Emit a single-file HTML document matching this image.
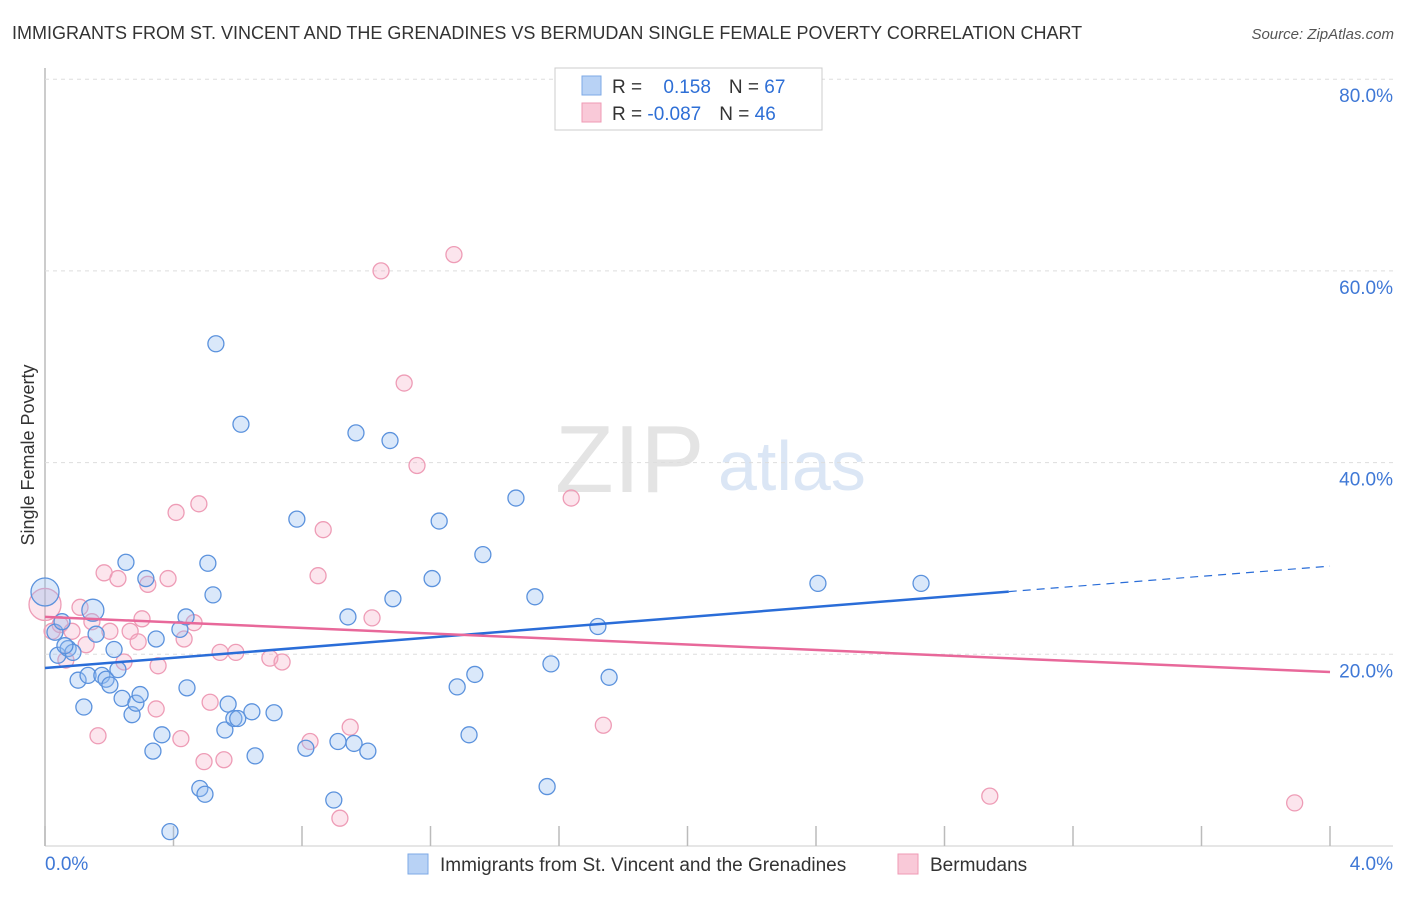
<!DOCTYPE html>
<html><head><meta charset="utf-8"><style>
body{margin:0;background:#fff;font-family:"Liberation Sans",sans-serif}
svg text{font-family:"Liberation Sans",sans-serif}
</style></head><body>
<svg id="c" width="1406" height="892">
<text x="12" y="39" font-size="18" fill="#333">IMMIGRANTS FROM ST. VINCENT AND THE GRENADINES VS BERMUDAN SINGLE FEMALE POVERTY CORRELATION CHART</text>
<text x="1394" y="39" font-size="15" fill="#555" font-style="italic" text-anchor="end">Source: ZipAtlas.com</text>
<text x="34" y="455" font-size="18" fill="#333" transform="rotate(-90 34 455)" text-anchor="middle">Single Female Poverty</text>
<text x="555" y="492" font-size="96" fill="#e4e4e4" font-family="Liberation Serif">ZIP</text>
<text x="718" y="490" font-size="70" fill="#dbe6f5">atlas</text>
<g id="grid"></g><g id="pts"></g><g id="lines"></g>
<g>
<rect x="555" y="68" width="267" height="62" fill="#fff" stroke="#ccc"/>
<rect x="582" y="76" width="19" height="19" fill="#b8d2f5" stroke="#7ea9e6"/>
<rect x="582" y="103" width="19" height="19" fill="#f9c9d8" stroke="#ef9ab4"/>
<text x="612" y="93" font-size="19" fill="#333">R = <tspan fill="#2e6fd6" dx="16">0.158</tspan><tspan dx="18" fill="#333">N = </tspan><tspan fill="#2e6fd6">67</tspan></text>
<text x="612" y="120" font-size="19" fill="#333">R = <tspan fill="#2e6fd6">-0.087</tspan><tspan dx="18" fill="#333">N = </tspan><tspan fill="#2e6fd6">46</tspan></text>
</g>
<g>
<rect x="408" y="854" width="20" height="20" fill="#b8d2f5" stroke="#7ea9e6"/>
<text x="440" y="871" font-size="19" fill="#333">Immigrants from St. Vincent and the Grenadines</text>
<rect x="898" y="854" width="20" height="20" fill="#f9c9d8" stroke="#ef9ab4"/>
<text x="930" y="871" font-size="19" fill="#333">Bermudans</text>
</g>
</svg>
<script>
const xTicks=[0,0.4,0.8,1.2,1.6,2.0,2.4,2.8,3.2,3.6,4.0];
const yTicks=[20,40,60,80];
const xLabels=["0.0%","4.0%"];
const blueX=[0.0,0.031,0.04,0.053,0.072,0.087,0.103,0.121,0.134,0.149,0.159,0.177,0.19,0.202,0.215,0.227,0.24,0.252,0.271,0.283,0.296,0.314,0.336,0.346,0.364,0.389,0.42,0.439,0.442,0.482,0.498,0.507,0.523,0.532,0.56,0.57,0.588,0.6,0.61,0.644,0.654,0.713,0.784,0.812,0.899,0.912,0.943,0.962,0.968,1.005,1.074,1.083,1.205,1.227,1.283,1.32,1.338,1.363,1.466,1.525,1.563,1.575,1.721,1.756,2.406,2.727,0.062];
const blueY=[26.5,22.3,19.9,23.4,20.6,20.2,17.3,14.5,17.8,24.6,22.1,17.8,17.4,16.8,20.5,18.4,15.4,29.6,13.7,14.9,15.8,27.9,9.9,21.6,11.6,1.5,22.6,23.9,16.5,6.0,5.4,29.5,26.2,52.4,12.1,14.8,13.3,13.3,44.0,14.0,9.4,13.9,34.1,10.2,4.8,10.9,23.9,10.7,43.1,9.9,42.3,25.8,27.9,33.9,16.6,11.6,17.9,30.4,36.3,26.0,6.2,19.0,22.9,17.6,27.4,27.4,20.9];
const pinkX=[0.0,0.022,0.047,0.065,0.084,0.109,0.128,0.146,0.165,0.184,0.202,0.227,0.246,0.265,0.29,0.302,0.32,0.346,0.352,0.383,0.408,0.423,0.433,0.464,0.479,0.495,0.514,0.545,0.557,0.594,0.7,0.738,0.825,0.85,0.866,0.918,0.95,1.018,1.046,1.118,1.158,1.273,1.638,1.738,2.941,3.89];
const pinkY=[25.2,22.4,23.1,19.4,22.4,24.9,21.0,23.4,11.5,28.5,22.4,27.9,19.2,22.4,21.3,23.7,27.3,14.3,18.8,27.9,34.8,11.2,21.6,23.3,35.7,8.8,15.0,20.2,9.0,20.2,19.6,19.2,10.9,28.2,33.0,2.9,12.4,23.8,60.0,48.3,39.7,61.7,36.3,12.6,5.2,4.5];
const blueBig=[14,0,0,0,0,0,0,0,0,11];const pinkBig=[16];
const trendBlue=[18.57,29.2],trendPink=[23.9,18.15];
const X=v=>45+v/4*1285, Y=v=>846-v/20*191.7;
const ns="http://www.w3.org/2000/svg";
function mk(t,a,p){const e=document.createElementNS(ns,t);for(const k in a)e.setAttribute(k,a[k]);p.appendChild(e);return e;}
const g=document.getElementById('grid');
const ax=mk('line',{x1:45,y1:68,x2:45,y2:846,stroke:'#bbb','stroke-width':1.5},g);


const bx=mk('line',{x1:45,y1:846,x2:1393,y2:846,stroke:'#ccc'},g);


yTicks.forEach(t=>{const l=mk('line',{x1:45,x2:1393,y1:Y(t),y2:Y(t),stroke:'#ddd','stroke-dasharray':'4 4'},g);


const tx=mk('text',{x:1393,y:Y(t)+23,'font-size':19,fill:'#3f78d6','text-anchor':'end'},g);tx.textContent=t.toFixed(1)+'%';

});
xTicks.forEach(t=>{const l=mk('line',{x1:X(t),x2:X(t),y1:826,y2:846,stroke:'#bbb','stroke-width':1.5},g);

});
[[0,xLabels[0],'start',45],[4,xLabels[1],'end',1393]].forEach(([v,s,a,x])=>{const tx=mk('text',{x:x,y:870,'font-size':19,fill:'#3f78d6','text-anchor':a},g);tx.textContent=s;

});
const p=document.getElementById('pts');
pinkX.forEach((v,i)=>{const c=mk('circle',{cx:X(v),cy:Y(pinkY[i]),r:pinkBig[i]||8,fill:'rgba(245,170,195,0.3)',stroke:'#ee9cb6','stroke-width':1.3},p);

});
blueX.forEach((v,i)=>{const c=mk('circle',{cx:X(v),cy:Y(blueY[i]),r:blueBig[i]||8,fill:'rgba(150,190,240,0.35)',stroke:'#5b92dd','stroke-width':1.3},p);

});
const L=document.getElementById('lines');
const by=x=>trendBlue[0]+(trendBlue[1]-trendBlue[0])*x/4;
const l1=mk('line',{x1:X(0),y1:Y(by(0)),x2:X(3.0),y2:Y(by(3.0)),stroke:'#2a6dd8','stroke-width':2.5},L);


const l2=mk('line',{x1:X(3.0),y1:Y(by(3.0)),x2:X(4),y2:Y(by(4)),stroke:'#2a6dd8','stroke-width':1.2,'stroke-dasharray':'8 6'},L);


const l3=mk('line',{x1:X(0),y1:Y(trendPink[0]),x2:X(4),y2:Y(trendPink[1]),stroke:'#e8689a','stroke-width':2.5},L);


</script>
</body></html>
